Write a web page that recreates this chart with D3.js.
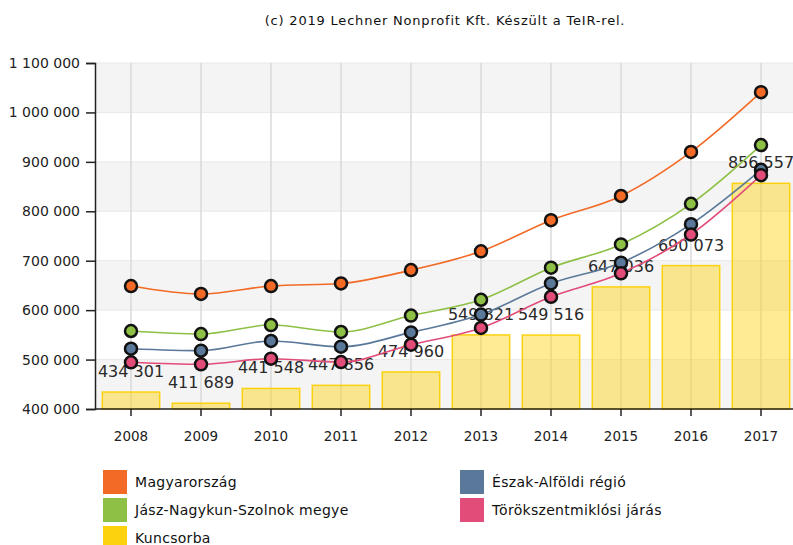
<!DOCTYPE html>
<html>
<head>
<meta charset="utf-8">
<script src="https://cdn.jsdelivr.net/npm/d3@7"></script>
<style>
  html, body { margin: 0; padding: 0; background: #fff; }
  svg { display: block; font-family: "DejaVu Sans", Verdana, sans-serif; }
</style>
</head>
<body>
<svg id="chart" width="793" height="545"></svg>
<script>
// Years on the x axis
const years = ["2008", "2009", "2010", "2011", "2012", "2013", "2014", "2015", "2016", "2017"];

// Per-capita values (Ft) for each territorial level
const magyarorszag = [648800, 632700, 648800, 654000, 681000, 719000, 782000, 831000, 920000, 1041000];
const jnszMegye    = [557800, 551700, 569900, 555800, 589000, 621000, 686000, 733000, 815000, 934000];
const eszakAlfold  = [522000, 518000, 537600, 526000, 555000, 591000, 654000, 696000, 774000, 884000];
const torokszJaras = [494500, 490400, 501800, 495000, 530000, 564000, 627000, 674500, 753000, 873000];
const kuncsorba    = [434301, 411689, 441548, 447856, 474960, 549821, 549516, 647036, 690073, 856557];

// Y axis ticks
const yTicks = [400000, 500000, 600000, 700000, 800000, 900000, 1000000, 1100000];

const seriesNames = {
  hu: "Magyarország",
  jnsz: "Jász-Nagykun-Szolnok megye",
  kun: "Kuncsorba",
  ea: "Észak-Alföldi régió",
  tor: "Törökszentmiklósi járás"
};
const colors = {
  hu: "#f26a25",
  jnsz: "#8dc045",
  kun: "#fcd20f",
  ea: "#5a7899",
  tor: "#e14c79"
};

const lines = [
  { key: "ea", values: eszakAlfold },
  { key: "tor", values: torokszJaras },
  { key: "jnsz", values: jnszMegye },
  { key: "hu", values: magyarorszag }
];

const svg = d3.select("#chart");
const fmt = d3.formatLocale({ decimal: ",", thousands: " ", grouping: [3], currency: ["", " Ft"] }).format(",d");

const plot = { left: 95, right: 796, top: 63, bottom: 409 };

const x = d3.scaleBand().domain(years).range([plot.left + 1, plot.right]).paddingInner(0.18).paddingOuter(0.09);
const xc = d => x(d) + x.bandwidth() / 2;
const y = d3.scaleLinear().domain([400000, 1100000]).range([plot.bottom, plot.top]);

// Title
svg.append("text")
  .attr("x", 445).attr("y", 25)
  .attr("text-anchor", "middle")
  .attr("font-family", "'DejaVu Sans', sans-serif")
  .attr("font-size", 13)
  .attr("letter-spacing", 0.8)
  .attr("fill", "#111")
  .text("(c) 2019 Lechner Nonprofit Kft. Készült a TeIR-rel.");

// Alternating background bands
const bands = svg.append("g");
for (let i = 0; i < yTicks.length - 1; i++) {
  const lo = yTicks[i], hi = yTicks[i + 1];
  if (i % 2 === 0) {
    bands.append("rect")
      .attr("x", plot.left).attr("y", y(hi))
      .attr("width", 793 - plot.left).attr("height", y(lo) - y(hi))
      .attr("fill", "#f4f4f4");
  }
}

// Horizontal grid lines
svg.append("g").selectAll("line").data(yTicks.slice(1)).join("line")
  .attr("x1", plot.left).attr("x2", 793)
  .attr("y1", d => y(d)).attr("y2", d => y(d))
  .attr("stroke", "#e8e8e8").attr("stroke-width", 1);

// Vertical grid lines at each year
svg.append("g").selectAll("line").data(years).join("line")
  .attr("x1", d => xc(d)).attr("x2", d => xc(d))
  .attr("y1", plot.top).attr("y2", plot.bottom)
  .attr("stroke", "#dadada").attr("stroke-width", 1.5);

// Kuncsorba bars
svg.append("g").selectAll("rect").data(years).join("rect")
  .attr("x", d => x(d))
  .attr("y", (d, i) => y(kuncsorba[i]))
  .attr("width", x.bandwidth())
  .attr("height", (d, i) => y.range()[0] - y(kuncsorba[i]))
  .attr("fill", "#fcd20f").attr("fill-opacity", 0.45)
  .attr("stroke", colors.kun).attr("stroke-width", 1.5);

// Bar value labels
svg.append("g").selectAll("text").data(years).join("text")
  .attr("x", d => xc(d))
  .attr("y", (d, i) => y(kuncsorba[i]) - 15)
  .attr("text-anchor", "middle")
  .attr("font-size", 16)
  .attr("fill", "#2a2a2a")
  .text((d, i) => fmt(kuncsorba[i]));

// Axes
const yAxis = svg.append("g")
  .attr("transform", `translate(${plot.left},0)`)
  .call(d3.axisLeft(y).tickValues(yTicks).tickFormat(fmt).tickSize(9).tickPadding(6));
yAxis.select(".domain").attr("stroke", "#222").attr("stroke-width", 1.5);
yAxis.selectAll(".tick line").attr("stroke", "#222").attr("stroke-width", 1.5);
yAxis.selectAll("text").attr("font-size", 14).attr("fill", "#222").attr("font-family", "'DejaVu Sans', sans-serif");

const xAxis = svg.append("g")
  .attr("transform", `translate(0,${plot.bottom})`)
  .call(d3.axisBottom(x).tickSize(7).tickPadding(15).tickSizeOuter(0));
xAxis.select(".domain").attr("stroke", "#222").attr("stroke-width", 1.5)
  .attr("d", `M${plot.left},0H793`);
xAxis.selectAll(".tick line").attr("stroke", "#222").attr("stroke-width", 1.5);
xAxis.selectAll("text").attr("font-size", 13.5).attr("fill", "#222").attr("font-family", "'DejaVu Sans', sans-serif");

// Lines and markers
const lineGen = d3.line()
  .x((d, i) => xc(years[i]))
  .y(d => y(d))
  .curve(d3.curveMonotoneX);

const lineG = svg.append("g");
lines.forEach(s => {
  lineG.append("path")
    .attr("d", lineGen(s.values))
    .attr("fill", "none")
    .attr("stroke", colors[s.key])
    .attr("stroke-width", 1.6);
});
lines.forEach(s => {
  lineG.append("g").selectAll("circle").data(s.values).join("circle")
    .attr("cx", (d, i) => xc(years[i]))
    .attr("cy", d => y(d))
    .attr("r", 6)
    .attr("fill", colors[s.key])
    .attr("stroke", "#111")
    .attr("stroke-width", 2.5);
});

// Legend
const legendItems = [
  { key: "hu", col: 0, row: 0 },
  { key: "jnsz", col: 0, row: 1 },
  { key: "kun", col: 0, row: 2 },
  { key: "ea", col: 1, row: 0 },
  { key: "tor", col: 1, row: 1 }
];
const legend = svg.append("g");
legendItems.forEach(it => {
  const lx = it.col === 0 ? 103 : 460;
  const ly = 470 + it.row * 28;
  legend.append("rect")
    .attr("x", lx).attr("y", ly).attr("width", 24).attr("height", 24)
    .attr("fill", colors[it.key]);
  legend.append("text")
    .attr("x", lx + 32).attr("y", ly + 17)
    .attr("font-size", 14)
    .attr("letter-spacing", 0.3)
    .attr("fill", "#111")
    .text(seriesNames[it.key]);
});
</script>
</body>
</html>
